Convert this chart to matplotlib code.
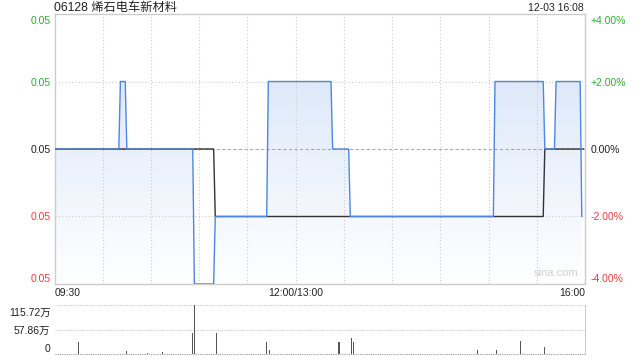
import matplotlib
matplotlib.use("Agg")
import matplotlib.pyplot as plt
import matplotlib.transforms as mtransforms
import numpy as np
from matplotlib.colors import LinearSegmentedColormap

plt.rcParams['font.family'] = ['Liberation Sans', 'Noto Sans CJK SC', 'DejaVu Sans']

title = "06128 烯石电车新材料"
stamp = "12-03 16:08"
prev_close = 0.050

# price line (minute index from 09:30, lunch removed, 330 = 16:00)
price_t = [0, 40, 41, 44, 45, 86, 87, 99, 100, 132, 133, 172, 173, 183, 184, 273, 274, 304, 305, 311, 312, 327, 328]
price_v = [0.050, 0.050, 0.051, 0.051, 0.050, 0.050, 0.048, 0.048, 0.049, 0.049, 0.051, 0.051, 0.050,
           0.050, 0.049, 0.049, 0.051, 0.051, 0.050, 0.050, 0.051, 0.051, 0.049]
# average price line
avg_t = [0, 99, 100, 304, 305, 329]
avg_v = [0.050, 0.050, 0.049, 0.049, 0.050, 0.050]

# volume (万股)
vol_t = [15, 45, 58, 67, 86, 87, 101, 132, 134, 177, 185, 186, 263, 275, 290, 305]
vol_v = [29.3, 7.7, 2.0, 5.4, 50.3, 115.72, 50.3, 29.3, 8.4, 29.3, 38.0, 29.3, 8.4, 8.4, 31.7, 17.0]

price_ticks = [0.052, 0.051, 0.050, 0.049, 0.048]
price_labels = ["0.05", "0.05", "0.05", "0.05", "0.05"]
pct_labels = ["+4.00%", "+2.00%", "0.00%", "-2.00%", "-4.00%"]
tick_colors = ["#2fae2f", "#2fae2f", "#222222", "#f03c3c", "#f03c3c"]
x_ticks = [0, 150, 330]
x_labels = ["09:30", "12:00/13:00", "16:00"]
vol_ticks = [0, 57.86, 115.72]
vol_labels = ["0", "57.86万", "115.72万"]

W, H = 640, 360
fig = plt.figure(figsize=(6.4, 3.6), dpi=100)
L, R = 54.5 / W, 585 / W
ax = fig.add_axes([L, 1 - 284 / H, R - L, (284 - 14) / H])
axv = fig.add_axes([L, 1 - 354 / H, R - L, (354 - 305) / H])

ymin, ymax = 0.048, 0.052
ax.set_xlim(0, 330)
ax.set_ylim(ymin, ymax)

# gradient fill under price line
poly = ax.fill_between(price_t, price_v, ymin, color='none', lw=0)
cmap = LinearSegmentedColormap.from_list('g', ['#ffffff', '#d3e2f8'])
grad = np.linspace(0, 1, 256).reshape(-1, 1)
im = ax.imshow(grad, cmap=cmap, origin='lower', aspect='auto',
               extent=[0, 330, ymin, ymax], zorder=1)
im.set_clip_path(poly.get_paths()[0], transform=ax.transData)

# grid
for m in range(30, 330, 30):
    ax.axvline(m, color='#cccccc', lw=0.8, ls=(0, (1, 2)), zorder=2)
for y in (0.051, 0.049):
    ax.axhline(y, color='#cccccc', lw=0.8, ls=(0, (1, 2)), zorder=2)
ax.axhline(prev_close, color='#aaaaaa', lw=0.8, ls=(0, (3, 2)), zorder=2)

ax.plot(avg_t, avg_v, color='#333333', lw=1.0, zorder=3)
ax.plot(price_t, price_v, color='#4f86e0', lw=1.0, zorder=4)

for s in ax.spines.values():
    s.set_color('#cccccc')
    s.set_linewidth(1.0)

ax.set_yticks(price_ticks)
ax.set_yticklabels(price_labels, fontsize=7.5)
ax.tick_params(axis='y', length=0, pad=3)
for lab, c in zip(ax.get_yticklabels(), tick_colors):
    lab.set_color(c)
ax.set_xticks(x_ticks)
ax.set_xticklabels(x_labels, fontsize=7.5, color='#222222')
ax.tick_params(axis='x', length=0, pad=3)
xl = ax.get_xticklabels()
xl[0].set_ha('left')
xl[2].set_ha('right')

ax2 = ax.twinx()
ax2.set_ylim(ymin, ymax)
ax2.set_yticks(price_ticks)
ax2.set_yticklabels(pct_labels, fontsize=7.5)
ax2.tick_params(axis='y', length=0, pad=4)
for lab, c in zip(ax2.get_yticklabels(), tick_colors):
    lab.set_color(c)
for s in ax2.spines.values():
    s.set_visible(False)

def shift(lab, dy):
    lab.set_transform(lab.get_transform() + mtransforms.ScaledTranslation(0, dy / 100, fig.dpi_scale_trans))

for a in (ax, ax2):
    labs = a.get_yticklabels()
    shift(labs[0], -6)
    shift(labs[-1], 6)

ax.text(0.0, 1.011, title, transform=ax.transAxes, fontsize=8.8, color='#222222', ha='left', va='baseline')
ax.text(0.998, 1.011, stamp, transform=ax.transAxes, fontsize=7.5, color='#222222', ha='right', va='baseline')
ax.text(0.945, 0.022, "sina.com", transform=ax.transAxes, fontsize=8, color='#cfcfcf', ha='center', va='bottom')

# volume panel
axv.set_xlim(0, 330)
axv.set_ylim(0, 115.72)
axv.bar(vol_t, vol_v, width=0.7, color='#555555', zorder=3)
for y in (57.86, 115.72):
    axv.axhline(y, color='#cccccc', lw=0.8, ls=(0, (1, 1)), zorder=1, clip_on=False)
axv.axhline(0, color='#999999', lw=0.8, ls=(0, (1, 1)), zorder=2, clip_on=False)
for k, s in axv.spines.items():
    s.set_visible(k == 'right')
axv.spines['right'].set_color('#cccccc')
axv.set_xticks([])
axv.set_yticks(vol_ticks)
axv.set_yticklabels(vol_labels, fontsize=7.5, color='#222222')
axv.tick_params(axis='y', length=0, pad=3)
vl = axv.get_yticklabels()
shift(vl[0], 6)
shift(vl[-1], -7)

fig.savefig("out.png", dpi=100)
